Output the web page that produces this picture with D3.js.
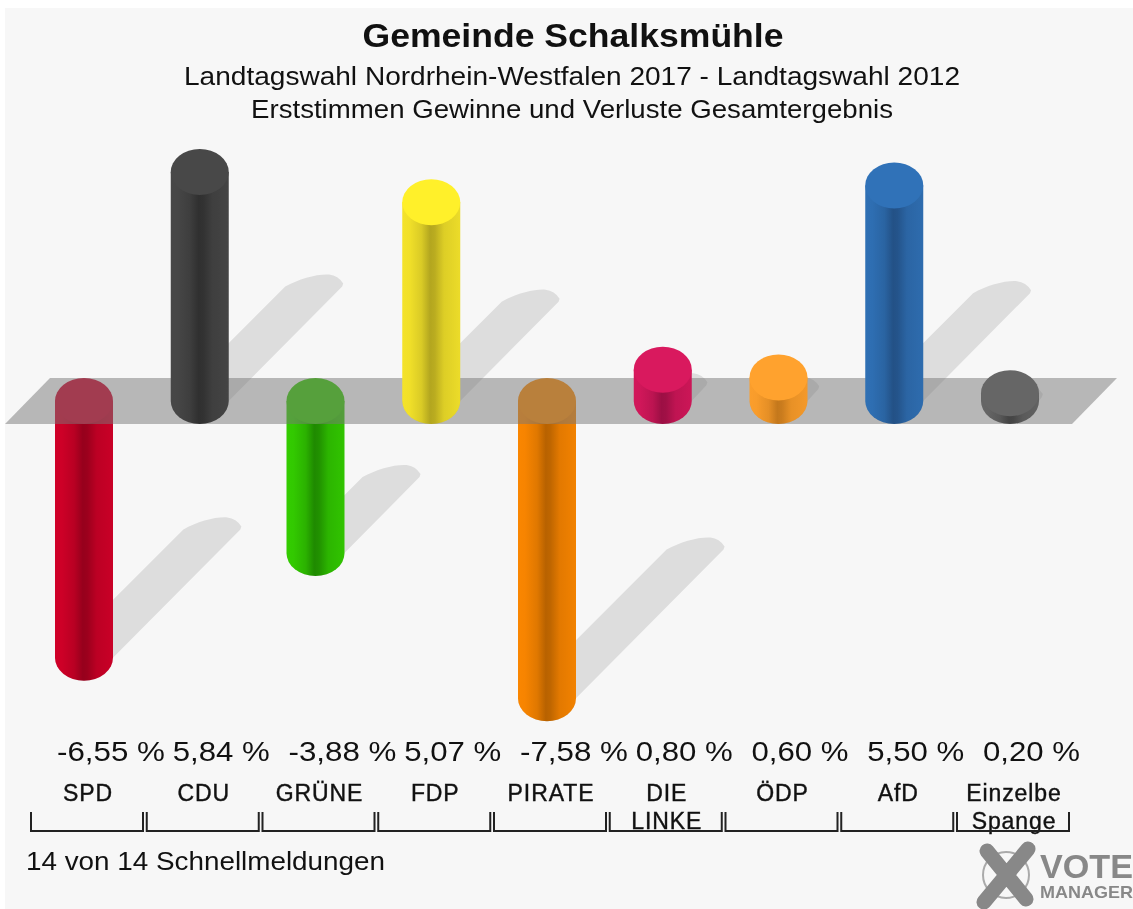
<!DOCTYPE html>
<html><head><meta charset="utf-8">
<script src="https://cdn.jsdelivr.net/npm/d3@7"></script>
<style>html,body{margin:0;padding:0;background:#fff;overflow:hidden}
svg{display:block;filter:blur(0.6px)}text{font-family:"Liberation Sans",Arial,sans-serif;fill:#111}</style>
</head><body><svg id="c" width="1133" height="909"></svg>
<script>
const parties=["SPD","CDU","GRÜNE","FDP","PIRATE","DIE LINKE","ÖDP","AfD","Einzelbe Spange"];
const labelLines=[["SPD"],["CDU"],["GRÜNE"],["FDP"],["PIRATE"],["DIE","LINKE"],["ÖDP"],["AfD"],["Einzelbe","Spange"]];
const values=[-6.55,5.84,-3.88,5.07,-7.58,0.80,0.60,5.50,0.20];
const valueLabels=["-6,55 %","5,84 %","-3,88 %","5,07 %","-7,58 %","0,80 %","0,60 %","5,50 %","0,20 %"];
const capColors=["#cc0029","#484848","#35c800","#fff02a","#fb8800","#d9195e","#ffa22e","#3072b8","#666666"];
const sideColors=["#d00028","#474747","#33cc00","#f4e32a","#fa8600","#d2175a","#fb9e2c","#2f70b4","#666666"];
const darkColors=["#96001c","#303030","#1f8a00","#b3a61f","#b86200","#9c0f44","#c4781c","#235186","#444444"];
const titleLines=["Gemeinde Schalksmühle","Landtagswahl Nordrhein-Westfalen 2017 - Landtagswahl 2012","Erststimmen Gewinne und Verluste Gesamtergebnis"];
const footer="14 von 14 Schnellmeldungen";

const svg=d3.select("#c");
const x=d3.scaleLinear().domain([0,8]).range([84,1010]);
const y=d3.scaleLinear().domain([-1,1]).range([440.2,361.8]);
const rx=29,ry=23,y0=y(0);
const defs=svg.append("defs");
parties.forEach((p,i)=>{
  const m=d3.interpolateRgb(sideColors[i],darkColors[i]);
  const g=defs.append("linearGradient").attr("id","g"+i);
  [[0,sideColors[i]],[.12,m(.05)],[.33,m(.4)],[.48,m(1)],[.56,m(.9)],[.72,m(.35)],[1,m(.12)]]
    .forEach(s=>g.append("stop").attr("offset",s[0]).attr("stop-color",s[1]));
});
svg.append("rect").attr("x",5).attr("y",8).attr("width",1128).attr("height",901).attr("fill","#f7f7f7");

// shadows
svg.append("g").selectAll("path").data(values).join("path")
  .attr("fill","#000").attr("opacity",.1)
  .attr("d",(v,i)=>{
    const cx=x(i),ys=Math.max(y(v),y0),h=Math.abs(y(v)-y0)/2,
      ex=cx+h,ey=ys-h;
    return `M${cx-rx},${ys}L${ex-rx},${ey}C${ex-rx+14},${ey-8} ${ex+4},${ey-13} ${ex+15},${ey-12}Q${ex+24},${ey-11} ${ex+rx},${ey-3}L${ex+rx-1},${ey}L${cx+rx},${ys}A${rx},${ry} 0 0 1 ${cx-rx},${ys}Z`;
  });

function body(v,i){
  const cx=x(i),yv=y(v);
  return v>=0
   ? `M${cx-rx},${yv}L${cx-rx},${y0}A${rx},${ry} 0 0 0 ${cx+rx},${y0}L${cx+rx},${yv}Z`
   : `M${cx-rx},${y0}L${cx-rx},${yv}A${rx},${ry} 0 0 0 ${cx+rx},${yv}L${cx+rx},${y0}Z`;
}
function bars(layer,keep){
  const idx=values.map((v,i)=>i).filter(i=>keep(values[i]));
  const g=layer.append("g").selectAll("g").data(idx).join("g");
  g.append("path").attr("d",i=>body(values[i],i)).attr("fill",i=>`url(#g${i})`);
  g.append("ellipse").attr("cx",i=>x(i)).attr("cy",i=>values[i]>=0?y(values[i]):y0)
    .attr("rx",rx).attr("ry",ry).attr("fill",i=>capColors[i]);
}
bars(svg,v=>v<0);
// plane
svg.append("path").attr("fill","#787878").attr("opacity",.5)
  .attr("d",d3.line()([[x(0)-34,y0-ry],[x(8)+107,y0-ry],[x(8)+62,y0+ry],[x(0)-79,y0+ry]])+"Z");
bars(svg,v=>v>=0);

// titles
const tl=[[573,47,34,"bold",421],[572,85,26,"normal",776],[572,118,26,"normal",642]];
svg.append("g").selectAll("text").data(titleLines).join("text")
  .attr("x",(d,i)=>tl[i][0]).attr("y",(d,i)=>tl[i][1]).attr("text-anchor","middle")
  .attr("font-size",(d,i)=>tl[i][2]).attr("font-weight",(d,i)=>tl[i][3])
  .attr("textLength",(d,i)=>tl[i][4]).attr("lengthAdjust","spacingAndGlyphs").text(d=>d);

// value labels
svg.append("g").selectAll("text").data(valueLabels).join("text")
  .attr("x",(d,i)=>x(i)-27).attr("y",761).attr("font-size",27)
  .attr("textLength",(d,i)=>values[i]<0?108:97).attr("lengthAdjust","spacingAndGlyphs").text(d=>d);

// party labels
const lab=svg.append("g").selectAll("g").data(labelLines).join("g");
lab.selectAll("text").data((d,i)=>d.map((s,j)=>({s,j,i}))).join("text")
  .attr("x",d=>x(d.i)+4).attr("y",d=>801+d.j*28).attr("text-anchor","middle")
  .attr("font-size",23).attr("letter-spacing",.9).attr("stroke","#111").attr("stroke-width",.4).text(d=>d.s);

// brackets
svg.append("g").selectAll("path").data(parties).join("path")
  .attr("fill","none").attr("stroke","#222").attr("stroke-width",2)
  .attr("d",(d,i)=>{const a=x(i)-53,b=x(i)+59;return `M${a},812V831H${b}V812`;});

svg.append("text").attr("x",26).attr("y",870).attr("font-size",25).attr("fill","#333")
  .attr("textLength",359).attr("lengthAdjust","spacingAndGlyphs").text(footer);

// logo
const logo=svg.append("g");
logo.append("circle").attr("cx",1006).attr("cy",875).attr("r",23).attr("fill","none").attr("stroke","#aaa").attr("stroke-width",2);
logo.append("path").attr("d","M987,851L1026,899M1028,849L984,902").attr("stroke","#888").attr("stroke-width",15).attr("stroke-linecap","round").attr("fill","none");
logo.append("text").attr("x",1040).attr("y",878).attr("font-size",34).attr("font-weight","bold").style("fill","#888").attr("textLength",93).attr("lengthAdjust","spacingAndGlyphs").text("VOTE");
logo.append("text").attr("x",1040).attr("y",898).attr("font-size",17).attr("font-weight","bold").style("fill","#888").attr("textLength",93).attr("lengthAdjust","spacingAndGlyphs").text("MANAGER");
</script></body></html>
